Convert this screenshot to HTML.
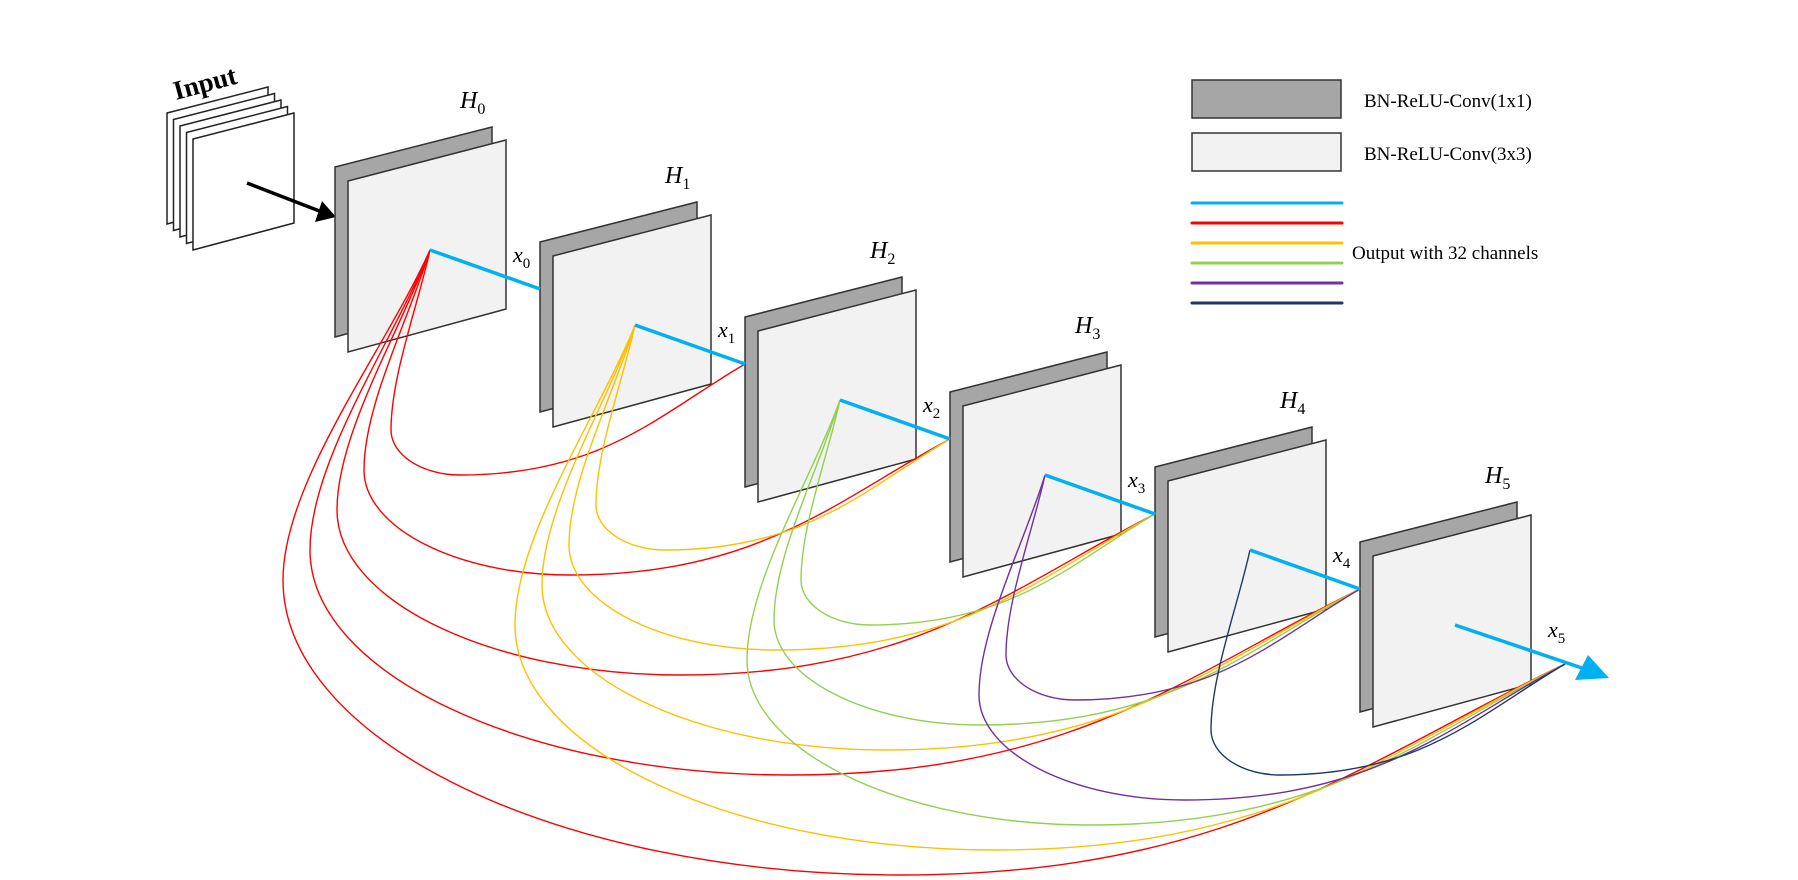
<!DOCTYPE html>
<html><head><meta charset="utf-8"><style>
html,body{margin:0;padding:0;background:#fff;}
svg{display:block;}
text{font-family:"Liberation Serif",serif;}
</style></head><body>
<svg id="fig" width="1798" height="880" viewBox="0 0 1798 880" xmlns="http://www.w3.org/2000/svg">
<g id="blocks"></g>
<g id="curves"></g>
<g id="top"></g>
</svg>
<script>
const blockLabels = ["0","1","2","3","4","5"];
const sourceColors = ["#ff0000","#ffc000","#92d050","#7030a0","#203864"];
const legendLineColors = ["#00b0f0","#ff0000","#ffc000","#92d050","#7030a0","#203864"];
const legendBoxLabels = ["BN-ReLU-Conv(1x1)","BN-ReLU-Conv(3x3)"];
const legendBoxFills = ["#a6a6a6","#f2f2f2"];

const NS="http://www.w3.org/2000/svg";
const DX=205, DY=75;
function mk(tag,attrs,parent){const e=document.createElementNS(NS,tag);for(const k in attrs)e.setAttribute(k,attrs[k]);parent.appendChild(e);return e;}
const curvesG=document.getElementById('curves'),blocksG=document.getElementById('blocks'),topG=document.getElementById('top');
function center(i){return [430+DX*i,250+DY*i];}
function entry(j){return [335+DX*j,214+DY*j];}

// input stack
for(let k=4;k>=0;k--){
  const ox=193-6.5*k, oy=139-6.5*k;
  const p=mk('polygon',{points:`${ox},${oy} ${ox+101},${oy-26} ${ox+101},${oy+84} ${ox},${oy+111}`,fill:'#fff',stroke:'#222','stroke-width':1.5},blocksG);
  
  
}
const inT=mk('text',{x:0,y:0,'font-size':27,'font-weight':'bold',transform:'translate(176,100) rotate(-15)'},blocksG);
inT.textContent='Input';


const ar=mk('line',{x1:247,y1:183,x2:322,y2:212,stroke:'#000','stroke-width':3.5},blocksG);


const ah=mk('polygon',{points:'336,217 315,222 322,201',fill:'#000'},blocksG);



// blocks
blockLabels.forEach((lab,i)=>{
  const x=335+DX*i,y=167+DY*i;
  const g=mk('g',{},blocksG);
  
  
  mk('polygon',{points:`${x},${y} ${x+157},${y-40} ${x+157},${y+128} ${x},${y+170}`,fill:'#a6a6a6',stroke:'#333','stroke-width':1.5},g);
  mk('polygon',{points:`${x+13},${y+14} ${x+171},${y-27} ${x+171},${y+142} ${x+13},${y+185}`,fill:'#f2f2f2',stroke:'#333','stroke-width':1.5},g);
  const t=mk('text',{x:x+125,y:y-59,'font-size':24,'font-style':'italic'},g);
  t.innerHTML='H<tspan dy="6" font-size="16" font-style="normal">'+lab+'</tspan>';
  const xl=mk('text',{x:x+178+(i==5?10:0),y:y+95,'font-size':22,'font-style':'italic'},g);
  xl.innerHTML='x<tspan dy="6" font-size="15" font-style="normal">'+lab+'</tspan>';
});

// dense curves
function curvePath(i,j){
  const s=j-i;const [cx,cy]=center(i);const [ex,ey]=entry(j);
  const lx=cx-(27*s-15), ly=cy+Math.min(330,100+40*s);
  const bx=cx+110*s-190, by=cy+100*s+25;
  const k=0.55;
  return `M${cx},${cy} C${cx-0.3*(cx-lx)},${cy+0.3*(ly-cy)} ${lx},${ly-0.3*(ly-cy)} ${lx},${ly} `+
    `C${lx},${ly+k*(by-ly)} ${bx-k*(bx-lx)},${by} ${bx},${by} `+
    `C${bx+0.5*(ex-bx)},${by} ${ex-0.3*(ex-bx)},${ey+0.45*(by-ey)} ${ex},${ey}`;
}
sourceColors.forEach((col,i)=>{
  for(let j=i+2;j<=6;j++){
    const p=mk('path',{d:curvePath(i,j),fill:'none',stroke:col,'stroke-width':1.4},curvesG);
    
    
  }
});
// blue lines on top
blockLabels.forEach((lab,i)=>{
  const [cx,cy]=center(i);
  const [ex,ey]=i<5?entry(i+1):[1582,668];
  const l=mk('line',{x1:cx,y1:cy,x2:ex,y2:ey,stroke:'#00b0f0','stroke-width':3.5},topG);
  
  
});
const oh=mk('polygon',{points:'1609,678 1575,680 1588,655',fill:'#00b0f0'},topG);



// legend
legendBoxLabels.forEach((lab,k)=>{
  const y=80+53*k;
  const r=mk('rect',{x:1192,y:y,width:149,height:38,fill:legendBoxFills[k],stroke:'#333','stroke-width':1.5},topG);
  
  
  const t=mk('text',{x:1364,y:y+27,'font-size':19},topG);
  t.textContent=lab;
  
  
});
legendLineColors.forEach((col,k)=>{
  const y=203+20*k;
  const l=mk('line',{x1:1192,y1:y,x2:1342,y2:y,stroke:col,'stroke-width':3,'stroke-linecap':'round'},topG);
  
  
});
const ot=mk('text',{x:1352,y:259,'font-size':19},topG);
ot.textContent='Output with 32 channels';


</script>
</body></html>
